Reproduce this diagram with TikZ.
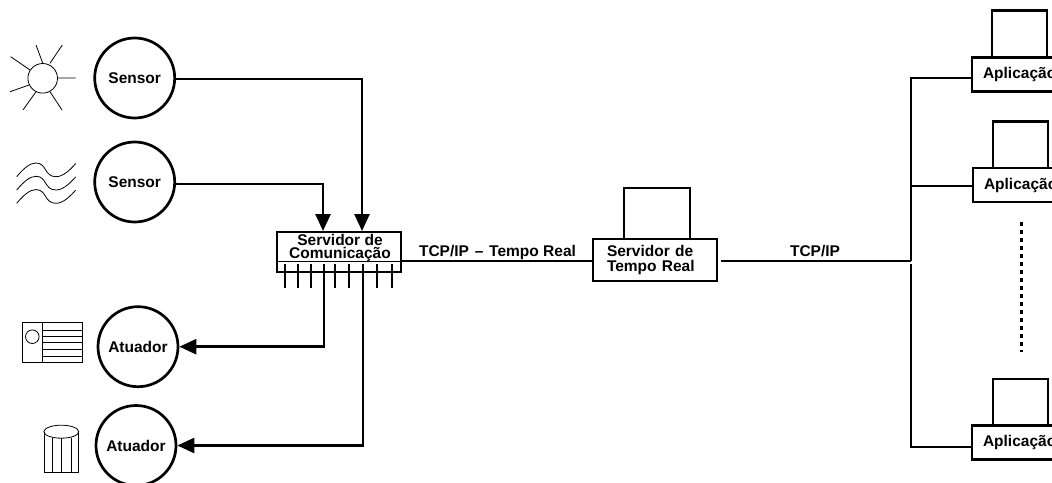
\documentclass[tikz,border=0pt]{standalone}
\usepackage{fontspec}
\setmainfont{Liberation Sans}
\usetikzlibrary{arrows.meta}
\tikzset{
  lbl/.style={font=\fontsize{15.5}{13}\selectfont\bfseries, inner sep=0pt, align=center},
  round/.style={circle, draw, line width=2.7pt, minimum size=80pt, inner sep=0pt, lbl},
  box/.style={rectangle, draw, line width=2.7pt, inner sep=0pt, fill=white},
  conn/.style={line width=2.7pt},
  arr/.style={conn, -{Triangle[length=17pt,width=15pt]}},
  icon/.style={line width=0.8pt},
  screen/.style={box, minimum width=55pt, minimum height=47pt},
  appbox/.style={box, lbl, minimum width=100pt, minimum height=34pt, text width=78pt, align=left, inner xsep=11pt}
}
\begin{document}
\begin{tikzpicture}[x=1pt,y=-1pt]
\clip (0,0) rectangle (1052,482);
% sensors / actuators
\node[round] (s1) at (134.7,78) {Sensor};
\node[round] (s2) at (134.7,182) {Sensor};
\node[round] (a1) at (138,346.7) {Atuador};
\node[round] (a2) at (136,445.5) {Atuador};
% communication server
\node[rectangle, draw, line width=1.3pt, minimum width=124pt, minimum height=40pt, inner sep=0pt] (srv) at (339,252) {};
\node[lbl, font=\fontsize{15.5}{13}\selectfont\bfseries] (srvt) at (340,248) {Servidor de\\Comunicação};
\coordinate (j) at (911,261);
\draw[line width=0.7pt] (j -| srv.west) -- (j -| srv.east);
\foreach \x/\n in {285/1,298/2,311/3,335/5,349/6,377/8,392/9}{
  \coordinate (p\n) at (\x,288);
  \coordinate (q\n) at (\x,264);
  \draw[line width=2.2pt] (q\n) -- (p\n);
}
% real-time server
\node[box, minimum width=66pt, minimum height=51pt] (rtscr) at (657,213.5) {};
\node[box, lbl, minimum width=124pt, minimum height=42pt, text width=96pt, align=left, inner xsep=14pt, font=\fontsize{15.5}{15}\selectfont\bfseries] (rt) at (655,260) {Servidor de\\Tempo Real};
% applications
\node[screen] (sc1) at (1019.5,34) {};
\node[screen] (sc2) at (1020.5,145) {};
\node[screen] (sc3) at (1020.5,402.5) {};
\node[appbox] (ap1) at (1022,74.5) {Aplicação};
\node[appbox] (ap2) at (1023,185) {Aplicação};
\node[appbox] (ap3) at (1022,442.5) {Aplicação};
% connectors
\coordinate (i1) at (362,231);
\coordinate (i2) at (323,231);
\coordinate (o1) at (324,264);
\coordinate (o2) at (363,264);
\coordinate (b1) at (911,78);
\coordinate (b2) at (911,186);
\coordinate (b3) at (911,447);
\coordinate (b4) at (911,264);
\draw[arr] (s1.east |- 0,79) -- (362,79) -- (i1);
\draw[arr] (s2.east |- 0,184) -- (323,184) -- (i2);
\draw[arr] (o1) |- (a1.east);
\draw[arr] (o2) |- (a2.east);
\node[lbl] (t1) at (497.5,252) {TCP/IP\hspace{1.5pt} – \hspace{1.5pt}Tempo Real};
\node[lbl] (t2) at (815,251) {TCP/IP};
\draw[conn] (j -| srv.east) -- (j -| rt.west);
\draw[conn] ([xshift=3pt]j -| rt.east) -- (j);
\draw[conn] (b1 -| ap1.west) -- (b1) -- (j);
\draw[conn] (b2 -| ap2.west) -- (b2);
\draw[conn] (b4) -- (b3) -- (b3 -| ap3.west);
\coordinate (d1) at (1021.7,222);
\coordinate (d2) at (1021.7,352);
\draw[line width=3pt, dash pattern=on 3.5pt off 4.5pt] (d1) -- (d2);
% sun icon
\draw[icon] (42.7,78.3) circle (14.8);
\draw[icon] (58,78)--(75.7,78) (36,45)--(42.7,63) (62.3,45)--(50,63.3) (10.7,56.7)--(30,70)
  (10,91.7)--(29,85) (23,110)--(36,91.7) (62,110)--(50,91.7);
% waves icon
\foreach \d in {0,13.3,26.6}{
  \draw[icon] (16.7,176.7+\d) .. controls (24,168+\d) and (30,163+\d) .. (36,163+\d)
     .. controls (47,163+\d) and (44,176.7+\d) .. (56,176.7+\d)
     .. controls (63,176.7+\d) and (70,170+\d) .. (75.7,163.5+\d);
}
% heater icon
\draw[icon] (22.7,322.7) rectangle (82.3,362.3);
\draw[icon] (42.7,322.7)--(42.7,362.3);
\foreach \y in {330,336.7,342.7,349.3,356}{\draw[icon] (42.7,\y)--(82.3,\y);}
\draw[icon] (32.3,336.7) circle (6.8);
% cylinder icon
\draw[icon] (61.3,431.7) ellipse (17.4 and 6.5);
\draw[icon] (44,431.7)--(44,472)--(78.7,472)--(78.7,431.7);
\foreach \x in {52.3,61,71}{\draw[icon] (\x,437.6)--(\x,472);}
\end{tikzpicture}
\end{document}
